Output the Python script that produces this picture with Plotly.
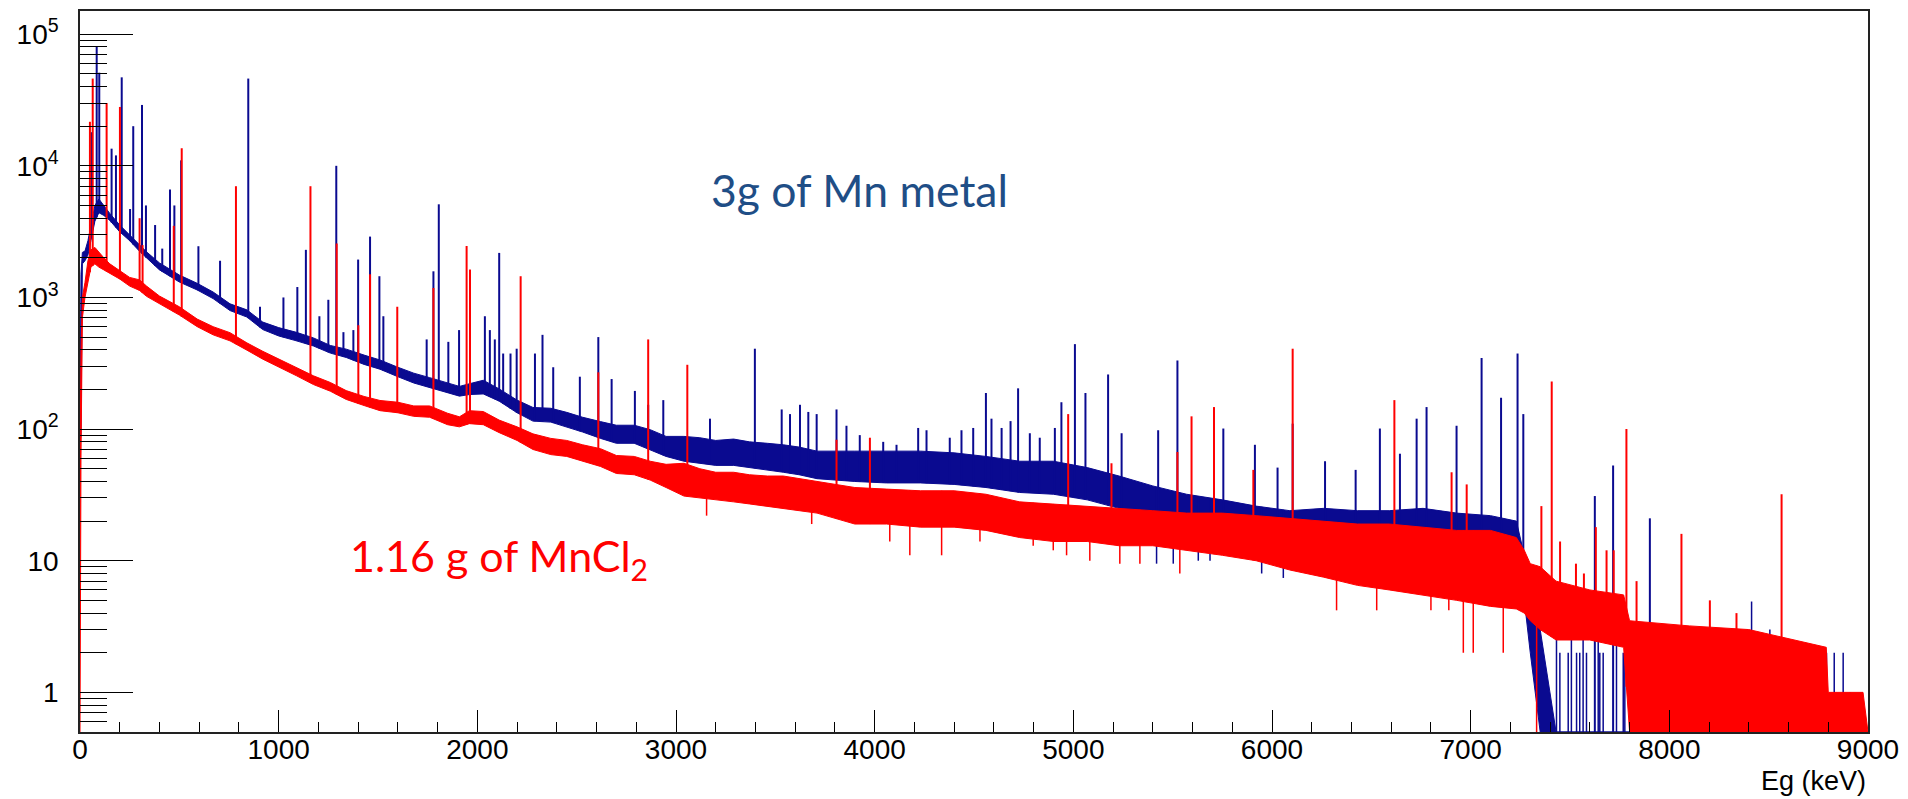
import numpy as np
import plotly.graph_objects as go

# ---------------- data ----------------
# continuum band (lower / upper envelope of the noisy histogram), counts
env_e = [0, 5, 12, 25, 40, 55, 75, 95, 120, 150,
         200, 250, 300, 335, 400, 500, 590, 670, 755, 840,
         920, 1000, 1090, 1175, 1260, 1340, 1430, 1510, 1600, 1680,
         1760, 1850, 1910, 1960, 2030, 2110, 2200, 2280, 2370, 2450,
         2530, 2620, 2700, 2790, 2870, 2950, 3040, 3120, 3200, 3290,
         3370, 3460, 3540, 3620, 3710, 3900, 4060, 4230, 4400, 4560,
         4730, 4900, 5070, 5230, 5400, 5570, 5750, 5920, 6090, 6260,
         6430, 6590, 6760, 6930, 7100, 7230, 7270, 7300, 7350, 7430,
         7600, 7770, 7800, 8100, 8400, 8790, 8800, 8910, 8975, 9000]

blue_lo = [80, 90, 1800, 1900, 2100, 2700, 3800, 4400, 4200, 3850,
           3150, 2700, 2240, 1990, 1620, 1310, 1140, 980, 795, 710,
           570, 510, 468, 428, 378, 350, 310, 285, 250, 224,
           208, 189, 178, 183, 185, 163, 133, 115, 113, 103,
           95, 85, 78, 78, 70, 62, 57, 55, 53, 53,
           51, 49, 47, 45, 42, 40, 39, 39, 38, 36,
           33, 32, 29, 25, 21, 18, 14, 13, 13, 13,
           13, 13, 13, 12, 12, 11, 5, 2, 0.5, 0.5,
           0.5, 0.5, 0.5, 0.5, 0.5, 0.5, 0.5, 0.5, 0.5, 0.5]

blue_hi = [110, 1500, 2200, 2250, 2700, 3600, 5000, 5600, 5000, 4350,
           3550, 3000, 2520, 2220, 1830, 1480, 1280, 1100, 895, 805,
           650, 590, 543, 493, 432, 405, 365, 335, 295, 266,
           246, 226, 211, 221, 235, 202, 166, 146, 144, 134,
           123, 114, 107, 107, 99, 88, 88, 86, 82, 84,
           80, 78, 76, 73, 68, 68, 68, 68, 66, 62,
           57, 57, 51, 44, 37, 32, 29, 26, 24, 25,
           24, 24, 25, 23, 22, 20, 11, 6, 3, 0.5,
           0.5, 0.5, 0.5, 0.5, 0.5, 0.5, 0.5, 0.5, 0.5, 0.5]

red_lo = [0.5, 60, 700, 1000, 1300, 1700, 1800, 1700, 1620, 1540,
          1380, 1220, 1130, 1020, 895, 735, 600, 520, 468, 398,
          340, 295, 254, 218, 194, 168, 151, 138, 133, 125,
          123, 108, 104, 110, 108, 94, 82, 70, 64, 62,
          57, 52, 46, 45, 41, 36, 31, 30, 29, 28,
          27, 26, 25, 24, 23, 19, 19, 18, 18, 17,
          15, 14, 14, 13, 13, 12, 11, 10, 8.5, 7.5,
          6.5, 6, 5.5, 5, 4.5, 4.3, 4, 3.5, 3, 2.5,
          2.5, 2.2, 0.5, 0.5, 0.5, 0.5, 0.5, 0.5, 0.5, 0.5]

red_hi = [60, 400, 1000, 1300, 1900, 2300, 2400, 2200, 2000, 1800,
          1610, 1420, 1360, 1220, 1025, 850, 685, 600, 540, 452,
          390, 340, 295, 254, 226, 196, 177, 165, 160, 150,
          150, 132, 124, 138, 136, 117, 104, 92, 85, 82,
          76, 71, 63, 62, 57, 54, 55, 50, 47, 47,
          45, 44, 44, 42, 40, 36, 35, 34, 34, 32,
          28, 27, 26, 25, 24, 23, 23, 22, 21, 20,
          19, 19, 18, 17, 17, 15, 12, 9.5, 9, 7,
          6, 5.5, 3.5, 3.2, 3, 2.2, 1.0, 1.0, 1.0, 0.5]

# gamma lines (energy keV, peak counts)
blue_peak_e = [58, 84, 97, 159, 181, 210, 252, 268, 312, 332,
               378, 414, 453, 475, 509, 596, 705, 847, 906, 1024,
               1094, 1137, 1205, 1250, 1290, 1326, 1376, 1400, 1460, 1507,
               1527, 1745, 1779, 1806, 1854, 1908, 2038, 2063, 2088, 2110,
               2130, 2167, 2198, 2290, 2328, 2382, 2516, 2609, 2676, 2793,
               2860, 2936, 3171, 3397, 3532, 3574, 3624, 3666, 3708, 3808,
               3858, 3925, 4043, 4110, 4219, 4261, 4378, 4437, 4496, 4560,
               4588, 4639, 4684, 4722, 4781, 4831, 4907, 4940, 5008, 5061,
               5175, 5243, 5427, 5524, 5755, 5914, 6028, 6104, 6267, 6421,
               6543, 6644, 6728, 6778, 6929, 7055, 7153, 7236, 7265, 7625,
               7717, 7902]
blue_peak_h = [18000, 80000, 51000, 13500, 12000, 47000, 4700, 20000, 29000, 5000,
               3550, 2350, 6600, 5000, 11000, 2450, 1900, 46000, 850, 1000,
               1200, 2300, 720, 960, 10000, 545, 565, 1940, 2900, 1450,
               720, 480, 1580, 5100, 460, 565, 720, 565, 480, 2180,
               375, 375, 408, 375, 520, 295, 250, 500, 240, 195,
               153, 166, 120, 408, 141, 130, 153, 135, 130, 141,
               106, 90, 80, 76, 102, 98, 86, 98, 102, 188,
               120, 102, 115, 204, 93, 86, 102, 160, 442, 188,
               260, 93, 98, 332, 101, 76, 51, 110, 57, 49,
               101, 65, 120, 147, 106, 347, 173, 375, 130, 31,
               53, 21]

red_peak_e = [50, 64, 134, 201, 300, 315, 472, 512, 785, 1160,
              1292, 1401, 1460, 1597, 1779, 1946, 1963, 2218, 2609, 2860,
              3057, 3808, 3976, 4974, 5192, 5524, 5595, 5708, 5906, 6104,
              6616, 6904, 6980, 7356, 7408, 7450, 7530, 7570, 7630, 7684,
              7720, 7784, 7835, 8061, 8204, 8338, 8565]
red_peak_h = [21600, 46000, 30000, 28000, 4000, 2500, 3500, 13600, 7000, 7000,
              2570, 615, 1500, 850, 1180, 2460, 1630, 1450, 270, 480,
              308, 83, 86, 130, 55, 67, 125, 147, 49, 408,
              166, 47, 38, 26, 230, 14, 9.5, 8, 18, 12,
              12, 100, 7, 16, 5, 4, 32]

# downward noise excursions (energy keV, lowest counts)
red_dip_e = [3154, 3683, 4076, 4177, 4337, 4530, 4798, 4899, 4966, 5083,
             5234, 5335, 5536, 6325, 6527, 6800, 6890, 6963, 7013, 7164, 7332]
red_dip_l = [22, 19, 14, 11, 11, 14, 13, 12, 11, 10,
             9.5, 9.5, 8, 4.2, 4.2, 4.2, 4.2, 2.0, 2.0, 2.0, 0.5]
blue_dip_e = [5419, 5503, 5629, 5688, 5948, 6057]
blue_dip_l = [9.5, 9.5, 10, 10, 8, 7.4]

# isolated blue bins at the high-energy end (drawn up from zero)
blue_tail_e = [7432, 7449, 7491, 7507, 7533, 7549, 7566, 7583, 7642, 7650,
               7667, 7734, 7768, 7776, 7990, 8028, 8221, 8414, 8506, 8623,
               8674, 8741, 8791, 8830, 8875, 8910]
blue_tail_h = [3, 2, 2, 3, 2, 2, 3, 2, 3, 2,
               2, 3, 2, 2, 3, 3, 2, 4.9, 3, 2,
               2, 2, 2, 2, 2, 1]

x_tick_vals = [0, 1000, 2000, 3000, 4000, 5000, 6000, 7000, 8000, 9000]
y_tick_vals = [1, 10, 100, 1000, 10000, 100000]
y_tick_text = ["1", "10", "10<sup>2</sup>", "10<sup>3</sup>", "10<sup>4</sup>", "10<sup>5</sup>"]

Y_MIN, Y_MAX = 0.5, 1.5e5
X_MIN, X_MAX = 0, 9000

BLUE = "#0A0A90"
RED = "#FF0000"

# ---------------- figure ----------------


def env_at(e, env):
    return 10 ** np.interp(e, env_e, np.log10(np.array(env, dtype=float)))


def band(lo, hi, color):
    xs = list(env_e) + list(env_e[::-1])
    ys = list(hi) + list(lo[::-1])
    return go.Scatter(x=xs, y=ys, mode="lines", fill="toself", fillcolor=color,
                      line=dict(color=color, width=1), hoverinfo="skip",
                      showlegend=False)


def vlines(pe, pv, start, color, width):
    xs, ys = [], []
    for e, v, s in zip(pe, pv, start):
        xs += [e, e, None]
        ys += [s, v, None]
    return go.Scatter(x=xs, y=ys, mode="lines", line=dict(color=color, width=width),
                      hoverinfo="skip", showlegend=False)


fig = go.Figure()
fig.add_trace(band(blue_lo, blue_hi, BLUE))
fig.add_trace(vlines(blue_peak_e, blue_peak_h, [env_at(e, blue_lo) for e in blue_peak_e], BLUE, 2))
fig.add_trace(vlines(blue_dip_e, blue_dip_l, [env_at(e, blue_hi) for e in blue_dip_e], BLUE, 1.5))
fig.add_trace(vlines(blue_tail_e, blue_tail_h, [Y_MIN] * len(blue_tail_e), BLUE, 1.5))
fig.add_trace(band(red_lo, red_hi, RED))
fig.add_trace(vlines(red_peak_e, red_peak_h, [env_at(e, red_lo) for e in red_peak_e], RED, 2))
fig.add_trace(vlines(red_dip_e, red_dip_l, [env_at(e, red_hi) for e in red_dip_e], RED, 1.5))
# carrier for the minor-tick axis
fig.add_trace(go.Scatter(x=[None], y=[None], yaxis="y2", showlegend=False, hoverinfo="skip"))

minor_vals = [k * 10 ** d for d in range(-1, 6) for k in range(2, 10)
              if Y_MIN < k * 10 ** d < Y_MAX]

axis_font = dict(family="Liberation Sans, Arial, sans-serif", size=28, color="black")
yrange = [np.log10(Y_MIN), np.log10(Y_MAX)]

# the page body adds an 8 px margin; the figure is sized so the plot frame
# lands where the reference frame is.
fig.update_layout(
    width=1900, height=791, autosize=False,
    margin=dict(l=72, r=40, t=1, b=67),
    paper_bgcolor="white", plot_bgcolor="white",
    xaxis=dict(range=[X_MIN, X_MAX], tickvals=x_tick_vals, ticks="inside", ticklen=22,
               tickwidth=1, tickcolor="black", showline=True, linecolor="#222",
               linewidth=1.5, mirror=True, showgrid=False, zeroline=False,
               tickfont=axis_font, ticklabelstandoff=-8,
               minor=dict(ticks="inside", ticklen=10, dtick=200, tick0=0,
                          tickcolor="black", tickwidth=1, showgrid=False)),
    yaxis=dict(type="log", range=yrange, tickvals=y_tick_vals, ticktext=y_tick_text,
               ticks="inside", ticklen=53, tickwidth=1, tickcolor="black",
               showline=True, linecolor="#222", linewidth=1.5, mirror=True,
               showgrid=False, zeroline=False, tickfont=axis_font,
               ticklabelstandoff=14),
    yaxis2=dict(type="log", range=yrange, overlaying="y", side="left", anchor="x",
                tickvals=minor_vals, ticks="inside", ticklen=27, tickwidth=1,
                tickcolor="black", showticklabels=False, showgrid=False,
                zeroline=False, showline=False),
    annotations=[
        dict(text="Eg (keV)", xref="paper", yref="paper", x=1.0, y=-0.068,
             xanchor="right", yanchor="middle", showarrow=False,
             font=dict(family="Liberation Sans, Arial, sans-serif", size=27, color="black")),
        dict(text="3g of Mn metal", xref="paper", yref="paper", x=0.4362, y=0.7528,
             xanchor="center", yanchor="middle", showarrow=False,
             font=dict(family="Lato, Open Sans, sans-serif", size=44.5, color="#1F4E86")),
        dict(text="1.16 g of MnCl<sub>2</sub>", xref="paper", yref="paper", x=0.2346, y=0.24,
             xanchor="center", yanchor="middle", showarrow=False,
             font=dict(family="Lato, Open Sans, sans-serif", size=43, color="#FF0000")),
    ],
)

fig.write_html("out.html")
